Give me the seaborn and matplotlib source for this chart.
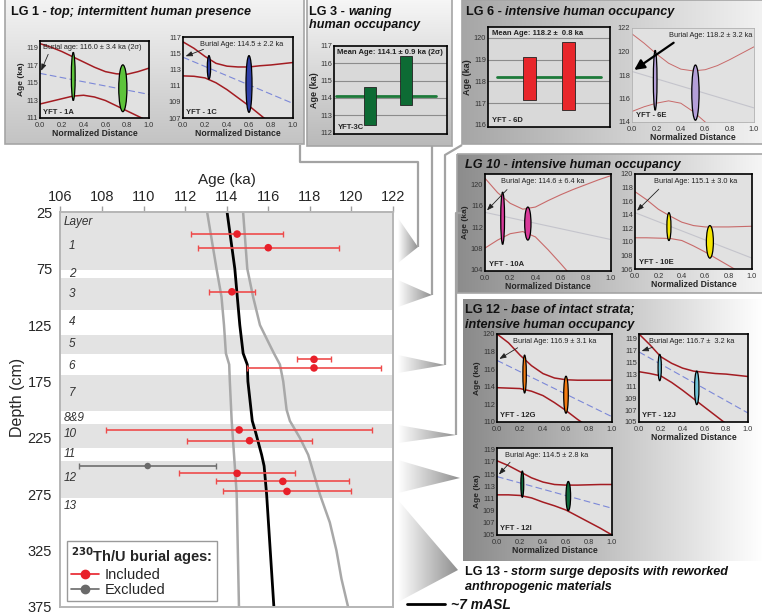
import numpy as np
import matplotlib
matplotlib.use("Agg")
import matplotlib.pyplot as plt
from matplotlib.patches import Ellipse, Polygon, Rectangle
from matplotlib.colors import LinearSegmentedColormap
from matplotlib.lines import Line2D
import seaborn as sns

# ---------------- main age-depth chart ----------------
layer_names = ["Layer", "1", "2", "3", "4", "5", "6", "7", "8&9", "10", "11", "12", "13"]
layer_depth = [33.5, 54.6, 80, 97.6, 122, 142, 161.5, 185, 207.4, 222, 239.7, 260.4, 285.8]
band_top = [25, 83.7, 134, 169.7, 213, 245.3]
band_bottom = [76.3, 111.9, 151, 201.2, 234, 278]

sample_depth = [44.3, 56.4, 95.5, 155.4, 163, 218, 227.5, 256.5, 263.6, 272.5]
sample_age = [114.5, 116.0, 114.25, 118.2, 118.2, 114.6, 115.1, 114.5, 116.7, 116.9]
sample_err = [2.2, 3.4, 1.1, 0.8, 3.2, 6.4, 3.0, 2.8, 3.2, 3.1]
excluded_depth = [250]
excluded_age = [110.2]
excluded_err = [3.3]

model_depth = [25, 75, 125, 150, 160, 175, 210, 220, 240, 250, 275, 375]
model_age = [114.02, 114.39, 114.63, 114.79, 114.99, 115.02, 115.23, 115.39, 115.68, 115.8, 115.92, 116.27]
low_depth = [25, 75, 100, 125, 150, 160, 175, 210, 250, 275, 375]
low_age = [113.06, 113.51, 113.75, 113.87, 113.96, 114.12, 114.15, 114.24, 114.39, 114.48, 114.59]
high_depth = [25, 75, 100, 125, 140, 150, 160, 175, 200, 210, 225, 240, 260, 275, 300, 325, 350, 375]
high_age = [114.79, 114.99, 115.27, 115.6, 116.0, 116.27, 116.56, 116.72, 116.88, 117.04,
            117.52, 117.92, 118.24, 118.48, 118.96, 119.28, 119.52, 119.84]

age_ticks = [106, 108, 110, 112, 114, 116, 118, 120, 122]
depth_ticks = [25, 75, 125, 175, 225, 275, 325, 375]

# ---------------- inset data ----------------
dist = [0.0, 0.1, 0.2, 0.3, 0.4, 0.5, 0.6, 0.7, 0.8, 0.9, 1.0]

yft1a_upper = [119.5, 119.1, 118.6, 118.0, 117.4, 116.8, 116.3, 116.05, 116.0, 116.3, 116.7]
yft1a_lower = [112.6, 112.9, 113.2, 113.5, 113.6, 113.4, 113.0, 112.4, 111.8, 111.2, 110.6]
yft1a_trend = [116.1, 113.7]
yft1a_x, yft1a_age, yft1a_span = [0.305, 0.76], [115.75, 114.4], [5.5, 5.35]

yft1c_upper = [116.4, 115.6, 114.6, 113.75, 113.4, 113.3, 113.3, 113.45, 113.55, 113.7, 113.85]
yft1c_lower = [112.2, 112.15, 111.95, 111.35, 110.5, 109.5, 108.5, 107.4, 106.3, 105.2, 104.1]
yft1c_trend = [114.5, 108.8]
yft1c_x, yft1c_age, yft1c_span = [0.236, 0.6], [113.25, 111.2], [2.9, 7.0]

yft3c_low = [112.45, 113.6]
yft3c_high = [114.65, 116.4]
yft3c_mean = 114.1

yft6d_low = [117.15, 116.7]
yft6d_high = [119.1, 119.83]
yft6d_mean = 118.2

yft6e_upper = [121.5, 120.7, 119.8, 119.0, 118.5, 118.35, 118.45, 118.8, 119.3, 119.85, 120.4]
yft6e_lower = [114.9, 115.3, 115.6, 115.8, 115.6, 114.9, 114.0, 113.0, 112.0, 111.0, 110.0]
yft6e_trend = [118.3, 115.2]
yft6e_x, yft6e_age, yft6e_span = [0.19, 0.52], [117.55, 116.5], [5.1, 4.7]

yft10a_upper = [121.2, 118.5, 116.5, 115.4, 115.8, 117.0, 118.1, 119.1, 120.0, 120.9, 121.7]
yft10a_lower = [108.1, 109.6, 110.8, 111.2, 110.2, 107.8, 105.2, 102.5, 100.0, 97.5, 95.0]
yft10a_trend = [114.8, 109.7]
yft10a_x, yft10a_age, yft10a_span = [0.14, 0.34], [113.7, 112.7], [9.8, 6.2]

yft10e_upper = [117.4, 116.2, 114.8, 113.8, 112.9, 112.4, 112.2, 112.2, 112.2, 112.25, 112.3]
yft10e_lower = [110.6, 110.6, 110.55, 110.5, 110.2, 109.4, 108.5, 107.5, 106.5, 105.5, 104.5]
yft10e_trend = [114.3, 107.6]
yft10e_x, yft10e_age, yft10e_span = [0.29, 0.64], [112.25, 110.0], [4.1, 4.8]

yft12g_upper = [120.0, 119.0, 117.6, 116.4, 115.5, 115.0, 114.8, 114.75, 114.75, 114.75, 114.75]
yft12g_lower = [113.9, 113.85, 113.8, 113.5, 113.0, 112.2, 111.3, 110.3, 109.4, 108.5, 107.6]
yft12g_trend = [117.0, 110.6]
yft12g_x, yft12g_age, yft12g_span = [0.24, 0.6], [115.45, 113.1], [4.3, 4.2]

yft12j_upper = [119.7, 117.9, 115.9, 114.8, 114.0, 113.5, 113.3, 113.1, 113.0, 112.8, 112.6]
yft12j_lower = [113.4, 113.1, 112.7, 111.6, 110.3, 108.9, 107.5, 106.1, 104.7, 103.3, 101.9]
yft12j_trend = [116.7, 106.5]
yft12j_x, yft12j_age, yft12j_span = [0.19, 0.53], [114.1, 110.7], [4.4, 5.6]

yft12i_upper = [117.2, 116.4, 115.4, 114.4, 113.7, 113.3, 113.2, 113.2, 113.25, 113.3, 113.3]
yft12i_lower = [111.6, 111.6, 111.5, 111.1, 110.4, 109.8, 109.1, 108.1, 107.1, 106.1, 105.0]
yft12i_trend = [114.6, 109.4]
yft12i_x, yft12i_age, yft12i_span = [0.22, 0.62], [113.35, 111.4], [4.3, 4.8]

# ---------------- figure setup ----------------
sns.set_style("white")
plt.rcParams['font.family'] = ['Liberation Sans', 'DejaVu Sans']

W, H = 762, 616
fig = plt.figure(figsize=(W / 100, H / 100), dpi=100)


def px_box(x0, y0, x1, y1):
    return [x0 / W, 1 - y1 / H, (x1 - x0) / W, (y1 - y0) / H]


deco = fig.add_axes([0, 0, 1, 1])
deco.axis("off")


def gradient(x0, y0, x1, y1, c0, c1, horizontal=True, clip=None):
    cmap = LinearSegmentedColormap.from_list("g", [c0, c1])
    g = np.linspace(0, 1, 256)
    img = g[None, :] if horizontal else g[:, None]
    im = deco.imshow(img, cmap=cmap, extent=(x0, x1, y1, y0), aspect="auto",
                     interpolation="bilinear", zorder=0)
    if clip is not None:
        im.set_clip_path(clip)


def panel(x0, y0, x1, y1, c0, c1, horizontal=True, edge="#a5a5a5"):
    gradient(x0, y0, x1, y1, c0, c1, horizontal)
    deco.add_patch(Rectangle((x0, y0), x1 - x0, y1 - y0, fill=False, ec=edge, lw=1.2, zorder=1))


def triangle(ya, yb, xt, yt, xb=398):
    poly = Polygon([(xb, ya), (xt, yt), (xb, yb)], closed=True, fc="none", ec="none")
    deco.add_patch(poly)
    gradient(xb, min(ya, yt), xt, max(yb, yt), "#ffffff", "#8f8f8f", True, clip=poly)


def rich_text(x, y, parts, size=9.1):
    r = fig.canvas.get_renderer()
    for s, style in parts:
        t = deco.text(x, y, s, fontsize=size, fontweight="bold", fontstyle=style,
                      va="center", ha="left", color="#111111", zorder=5)
        x += t.get_window_extent(renderer=r).width


# panel backgrounds
panel(5, -2, 304, 144, "#f4f4f4", "#c3c3c3", horizontal=False)
panel(307, -2, 452, 146, "#f7f7f7", "#b9b9b9", horizontal=False)
panel(462, 0, 764, 144, "#a6a6a6", "#f2f2f2")
panel(457, 154, 764, 293, "#8c8c8c", "#f6f6f6")
gradient(463, 299, 764, 561, "#8a8a8a", "#ffffff")

# connector triangles and lines
triangle(218, 263, 418, 247)
triangle(280, 307, 432, 295)
triangle(355, 373, 445, 365)
triangle(425, 443, 456, 435)
triangle(460, 493, 460, 478)
triangle(500, 602, 458, 570)
lc = dict(color="#a3a3a3", lw=1.6, zorder=1, solid_capstyle="butt")
deco.plot([418, 418, 300, 300], [247, 162, 162, 145], **lc)
deco.plot([432, 432], [295, 146], **lc)
deco.plot([445, 445, 462], [365, 155, 145], **lc)
deco.plot([456, 456, 466], [435, 213, 213], **lc)

# panel titles
rich_text(11, 12, [("LG 1 - ", "normal"), ("top; intermittent human presence", "italic")])
rich_text(309, 12, [("LG 3 - ", "normal"), ("waning", "italic")])
rich_text(309, 25, [("human occupancy", "italic")])
rich_text(466, 12, [("LG 6 - ", "normal"), ("intensive human occupancy", "italic")])
rich_text(465, 165, [("LG 10 - intensive human occupancy", "italic")])
rich_text(465, 310, [("LG 12 - ", "normal"), ("base of intact strata;", "italic")])
rich_text(465, 325, [("intensive human occupancy", "italic")])
rich_text(465, 572, [("LG 13 - ", "normal"), ("storm surge deposits with reworked", "italic")])
rich_text(465, 587, [("anthropogenic materials", "italic")])
deco.plot([407, 445], [604, 604], color="black", lw=2, zorder=3)
rich_text(451, 605, [("~7 mASL", "italic")], size=10)

deco.set_xlim(0, W)
deco.set_ylim(H, 0)

# ---------------- main axes ----------------
ax = fig.add_axes(px_box(60.4, 212.3, 393, 607))
for top, bot in zip(band_top, band_bottom):
    ax.axhspan(top, bot, color="#e3e3e3", lw=0, zorder=0)

sns.lineplot(x=low_age, y=low_depth, orient="y", sort=False, estimator=None,
             color="#a8a8a8", lw=1.8, ax=ax)
sns.lineplot(x=high_age, y=high_depth, orient="y", sort=False, estimator=None,
             color="#a8a8a8", lw=1.8, ax=ax)
sns.lineplot(x=model_age, y=model_depth, orient="y", sort=False, estimator=None,
             color="black", lw=2.0, ax=ax)

ax.errorbar(sample_age, sample_depth, xerr=sample_err, fmt="none", ecolor="#ee4b4b",
            elinewidth=1.2, capsize=2.5, capthick=1.0, zorder=4)
ax.errorbar(excluded_age, excluded_depth, xerr=excluded_err, fmt="none", ecolor="#6e6e6e",
            elinewidth=1.2, capsize=2.5, capthick=1.0, zorder=4)
sns.scatterplot(x=sample_age, y=sample_depth, color="#e8202a", s=30, edgecolor="none",
                ax=ax, zorder=5)
sns.scatterplot(x=excluded_age, y=excluded_depth, color="#6a6a6a", s=22, edgecolor="none",
                ax=ax, zorder=5)

for name, d in zip(layer_names, layer_depth):
    xoff = 106.15 if name in ("Layer", "8&9", "10", "11", "12", "13") else 106.4
    ax.text(xoff, d, name, fontsize=8.5, fontstyle="italic", color="#333333", va="center")

ax.set_xlim(106, 122)
ax.set_ylim(375, 25)
ax.set_xticks(age_ticks)
ax.set_yticks(depth_ticks)
ax.xaxis.tick_top()
ax.xaxis.set_label_position("top")
ax.set_xlabel("Age (ka)", fontsize=11, labelpad=4)
ax.set_ylabel("Depth (cm)", fontsize=11.5, labelpad=4)
ax.yaxis.set_label_coords(-0.105, 0.53)
ax.tick_params(axis="both", labelsize=10.5, length=4, width=1, color="#a0a0a0", pad=2,
               direction="out")
for s in ax.spines.values():
    s.set_color("#b5b5b5")
    s.set_linewidth(1.4)

handles = [Line2D([], [], color="#e8202a", marker="o", ms=6, lw=1.2),
           Line2D([], [], color="#6a6a6a", marker="o", ms=6, lw=1.2)]
leg = ax.legend(handles, ["Included", "Excluded"], title=r"$^{\mathbf{230}}$Th/U burial ages:",
                loc="lower left", bbox_to_anchor=(0.02, 0.015), borderaxespad=0,
                fontsize=10.5, title_fontsize=10.5, fancybox=False, framealpha=1,
                edgecolor="#9a9a9a", handlelength=1.9, handletextpad=0.4,
                labelspacing=0.05, borderpad=0.3, alignment="left")
leg.get_title().set_fontweight("bold")
leg.get_frame().set_linewidth(1.0)


# ---------------- inset plots ----------------
def style_small(a, frame="black", frame_lw=1.2):
    a.tick_params(axis="both", labelsize=5.3, length=2, width=0.6, pad=1.5,
                  direction="in", colors="#333333")
    a.tick_params(axis="x", pad=2.6)
    for s in a.spines.values():
        s.set_color(frame)
        s.set_linewidth(frame_lw)


def ellipse_panel(box, upper, lower, trend, ex, eage, espan, widths, ylim, yticks, fill,
                  name, note, note_x, ylabel=True, xlabel=True, curve="#a31c22", curve_lw=1.1,
                  trend_color="#7c88d8", trend_ls=(0, (6, 3)), frame="black", frame_lw=1.2,
                  bold_arrow=False):
    a = fig.add_axes(px_box(*box))
    a.set_facecolor("#e1e1e1")
    a.plot(dist, upper, color=curve, lw=curve_lw, zorder=2)
    a.plot(dist, lower, color=curve, lw=curve_lw, zorder=2)
    a.plot([dist[0], dist[-1]], trend, color=trend_color, lw=0.8, ls=trend_ls, zorder=2)
    for xx, yy, hh, ww in zip(ex, eage, espan, widths):
        a.add_patch(Ellipse((xx, yy), ww, hh, fc=fill, ec="black", lw=0.9, zorder=4))
    a.set_xlim(0, 1)
    a.set_ylim(*ylim)
    a.set_yticks(yticks)
    a.set_xticks([0, 0.2, 0.4, 0.6, 0.8, 1.0])
    a.set_xticklabels(["0.0", "0.2", "0.4", "0.6", "0.8", "1.0"])
    style_small(a, frame, frame_lw)
    if ylabel:
        a.set_ylabel("Age (ka)", fontsize=6.0, fontweight="bold", labelpad=1)
    if xlabel:
        a.set_xlabel("Normalized Distance", fontsize=6.2, fontweight="bold", labelpad=0.3)
    a.text(note_x, 0.955, note, transform=a.transAxes, fontsize=5.3, va="top", ha="left",
           color="#222222", zorder=6)
    a.text(0.03, 0.03, name, transform=a.transAxes, fontsize=5.5, fontweight="bold",
           va="bottom", ha="left", zorder=6)
    if bold_arrow:
        ap = dict(arrowstyle="-|>,head_length=0.6,head_width=0.3", color="black", lw=1.6)
    else:
        ap = dict(arrowstyle="-|>,head_length=0.4,head_width=0.15", color="#222222", lw=0.6)
    a.annotate("", xy=(0.0, trend[0]), xycoords="data", xytext=(note_x + 0.06, 0.86),
               textcoords="axes fraction", arrowprops=ap, zorder=7)
    return a


ellipse_panel((40, 41, 149, 118), yft1a_upper, yft1a_lower, yft1a_trend, yft1a_x, yft1a_age,
              yft1a_span, (0.035, 0.075), (111, 119.8), [111, 113, 115, 117, 119], "#5dc43a",
              "YFT - 1A", "Burial age: 116.0 ± 3.4 ka (2σ)", 0.025)
ellipse_panel((183, 37, 293, 118), yft1c_upper, yft1c_lower, yft1c_trend, yft1c_x, yft1c_age,
              yft1c_span, (0.03, 0.055), (107, 117), [107, 109, 111, 113, 115, 117], "#2f3fa8",
              "YFT - 1C", "Burial Age: 114.5 ± 2.2 ka", 0.15, ylabel=False)
ellipse_panel((632, 28, 754, 122), yft6e_upper, yft6e_lower, yft6e_trend, yft6e_x, yft6e_age,
              yft6e_span, (0.03, 0.06), (114, 122), [114, 116, 118, 120, 122], "#b49fd8",
              "YFT - 6E", "Burial Age: 118.2 ± 3.2 ka", 0.3, ylabel=False, curve="#c86a6a",
              curve_lw=0.7, trend_color="#c4c4cc", trend_ls="-", frame="#b0b0b0",
              frame_lw=0.6, bold_arrow=True)
ellipse_panel((485, 174, 611, 271), yft10a_upper, yft10a_lower, yft10a_trend, yft10a_x,
              yft10a_age, yft10a_span, (0.03, 0.05), (103.8, 122), [104, 108, 112, 116, 120],
              "#d8399a", "YFT - 10A", "Burial Age: 114.6 ± 6.4 ka", 0.13, curve="#c86a6a",
              curve_lw=0.8, trend_color="#c4c4cc", trend_ls="-")
ellipse_panel((635, 174, 752, 269), yft10e_upper, yft10e_lower, yft10e_trend, yft10e_x,
              yft10e_age, yft10e_span, (0.035, 0.06), (106, 120),
              [106, 108, 110, 112, 114, 116, 118, 120], "#f4e600", "YFT - 10E",
              "Burial Age: 115.1 ± 3.0 ka", 0.16, ylabel=False, curve="#c86a6a",
              curve_lw=0.8, trend_color="#c4c4cc", trend_ls="-")
ellipse_panel((497, 334, 612, 422), yft12g_upper, yft12g_lower, yft12g_trend, yft12g_x,
              yft12g_age, yft12g_span, (0.03, 0.04), (110, 120), [110, 112, 114, 116, 118, 120],
              "#f47b12", "YFT - 12G", "Burial Age: 116.9 ± 3.1 ka", 0.14, xlabel=False)
ellipse_panel((639, 334, 748, 422), yft12j_upper, yft12j_lower, yft12j_trend, yft12j_x,
              yft12j_age, yft12j_span, (0.03, 0.04), (105, 119.7),
              [105, 107, 109, 111, 113, 115, 117, 119], "#70c6da", "YFT - 12J",
              "Burial Age: 116.7 ±  3.2 ka", 0.09, ylabel=False)
ellipse_panel((497, 448, 612, 535), yft12i_upper, yft12i_lower, yft12i_trend, yft12i_x,
              yft12i_age, yft12i_span, (0.025, 0.04), (105, 119.3),
              [105, 107, 109, 111, 113, 115, 117, 119], "#0f6b3c", "YFT - 12I",
              "Burial Age: 114.5 ± 2.8 ka", 0.07)


def bar_panel(box, low, high, mean, ylim, yticks, grid, color, name, note, xlim, span):
    a = fig.add_axes(px_box(*box))
    a.set_facecolor("#d9d9d9")
    for g in grid:
        a.axhline(g, color="#8c8c8c", lw=0.8, zorder=1)
    a.axhline(mean, xmin=span[0], xmax=span[1], color="#1d7a3a", lw=2.0, zorder=2)
    pos = list(range(len(low)))
    a.bar(pos, [h - l for h, l in zip(high, low)], bottom=low, width=0.33, color=color,
          edgecolor="#222222", lw=0.6, zorder=3)
    a.set_xlim(*xlim)
    a.set_ylim(*ylim)
    a.set_yticks(yticks)
    a.set_xticks([])
    style_small(a)
    a.set_ylabel("Age (ka)", fontsize=6.5, fontweight="bold", labelpad=1)
    a.text(0.03, 0.97, note, transform=a.transAxes, fontsize=5.5, fontweight="bold",
           va="top", ha="left", color="#222222", zorder=6)
    a.text(0.03, 0.03, name, transform=a.transAxes, fontsize=5.5, fontweight="bold",
           va="bottom", ha="left", zorder=6)


bar_panel((334, 46, 447, 134), yft3c_low, yft3c_high, yft3c_mean, (111.9, 117.0),
          [112, 113, 114, 115, 116, 117], [113, 114, 115, 116], "#0d6b34", "YFT-3C",
          "Mean Age: 114.1 ± 0.9 ka (2σ)", (-1.0, 2.125), (0.02, 0.9))
bar_panel((488, 27, 610, 127), yft6d_low, yft6d_high, yft6d_mean, (115.9, 120.5),
          [116, 117, 118, 119, 120], [117, 118, 119, 120], "#e8262b", "YFT - 6D",
          "Mean Age: 118.2 ±  0.8 ka", (-1.07, 2.05), (0.07, 0.93))

fig.savefig("out.png", dpi=100, facecolor="white")
